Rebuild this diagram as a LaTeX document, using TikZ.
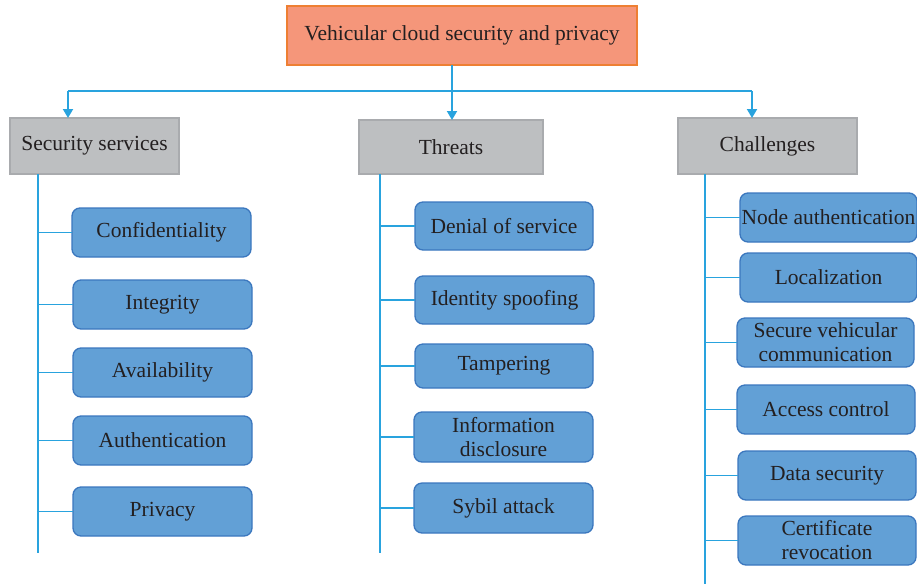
\documentclass[tikz,border=0pt]{standalone}
\usepackage{fontspec}
\setmainfont{Liberation Serif}
\usetikzlibrary{arrows.meta,calc}
\definecolor{rootfill}{HTML}{F5967A}
\definecolor{rootedge}{HTML}{EE7F33}
\definecolor{headfill}{HTML}{BDBFC1}
\definecolor{headedge}{HTML}{A9ABAE}
\definecolor{itemfill}{HTML}{62A0D6}
\definecolor{itemedge}{HTML}{3B77BE}
\definecolor{wire}{HTML}{29A3DE}
\definecolor{ink}{HTML}{231F20}
\tikzset{
  box/.style={inner sep=0pt, outer sep=0pt, align=center, text=ink,
    font=\fontsize{21.5}{24}\selectfont, line width=1.3pt},
  rootbox/.style={box, fill=rootfill, draw=rootedge},
  headbox/.style={box, fill=headfill, draw=headedge},
  itembox/.style={box, fill=itemfill, draw=itemedge, rounded corners=8pt},
  wireline/.style={draw=wire, line width=1.9pt},
  feed/.style={wireline, -{Triangle[length=9pt,width=10pt]}},
}
% place a box by its pixel corners (x1,y1)-(x2,y2)
\newcommand{\pbox}[7]{%
  \node[#1, minimum width={#4-#2}, minimum height={#5-#3}]
    (#6) at ({(#2+#4)/2},{(#3+#5)/2}) {#7};}
\begin{document}
\begin{tikzpicture}[x=1pt,y=-1pt]
\useasboundingbox (0,0) rectangle (917,584);

% top level
\pbox{rootbox}{287}{6}{637}{65}{root}{Vehicular cloud security and privacy}

% category headers
\pbox{headbox}{10}{118}{179}{174}{sec}{Security services}
\pbox{headbox}{359}{120}{543}{174}{thr}{Threats}
\pbox{headbox}{678}{118}{857}{174}{cha}{Challenges}

% distribution bus
\coordinate (bus) at (452,91);
\coordinate (busL) at (68,91);
\coordinate (busR) at (752,91);
\draw[wireline] (root.south -| bus) -- (bus);
\draw[wireline] (busL) -- (busR);
\draw[feed] (busL) -- (busL |- sec.north);
\draw[feed] (bus) -- (bus |- thr.north);
\draw[feed] (busR) -- (busR |- cha.north);

% security services
\pbox{itembox}{72}{208}{251}{257}{s1}{Confidentiality}
\pbox{itembox}{73}{280}{252}{329}{s2}{Integrity}
\pbox{itembox}{73}{348}{252}{397}{s3}{Availability}
\pbox{itembox}{73}{416}{252}{465}{s4}{Authentication}
\pbox{itembox}{73}{487}{252}{536}{s5}{Privacy}

% threats
\pbox{itembox}{415}{202}{593}{250}{t1}{Denial of service}
\pbox{itembox}{415}{276}{594}{324}{t2}{Identity spoofing}
\pbox{itembox}{415}{344}{593}{388}{t3}{Tampering}
\pbox{itembox}{414}{412}{593}{462}{t4}{Information\\disclosure}
\pbox{itembox}{414}{483}{593}{533}{t5}{Sybil attack}

% challenges
\pbox{itembox}{740}{193}{917}{242}{c1}{Node authentication}
\pbox{itembox}{740}{253}{917}{302}{c2}{Localization}
\pbox{itembox}{737}{318}{914}{367}{c3}{Secure vehicular\\communication}
\pbox{itembox}{737}{385}{915}{434}{c4}{Access control}
\pbox{itembox}{738}{451}{916}{500}{c5}{Data security}
\pbox{itembox}{738}{516}{916}{565}{c6}{Certificate\\revocation}

% trunks
\coordinate (secT) at (38,174);   \coordinate (secB) at (38,553);
\coordinate (thrT) at (380,174);  \coordinate (thrB) at (380,553);
\coordinate (chaT) at (705,174);  \coordinate (chaB) at (705,584);
\draw[wireline] (secT) -- (secB);
\draw[wireline] (thrT) -- (thrB);
\draw[wireline] (chaT) -- (chaB);

% branches
\foreach \n in {s1,s2,s3,s4,s5} \draw[wireline] (\n.west -| secT) -- (\n.west);
\foreach \n in {t1,t2,t3,t4,t5} \draw[wireline] (\n.west -| thrT) -- (\n.west);
\foreach \n in {c1,c2,c3,c4,c5,c6} \draw[wireline] (\n.west -| chaT) -- (\n.west);
\end{tikzpicture}
\end{document}
